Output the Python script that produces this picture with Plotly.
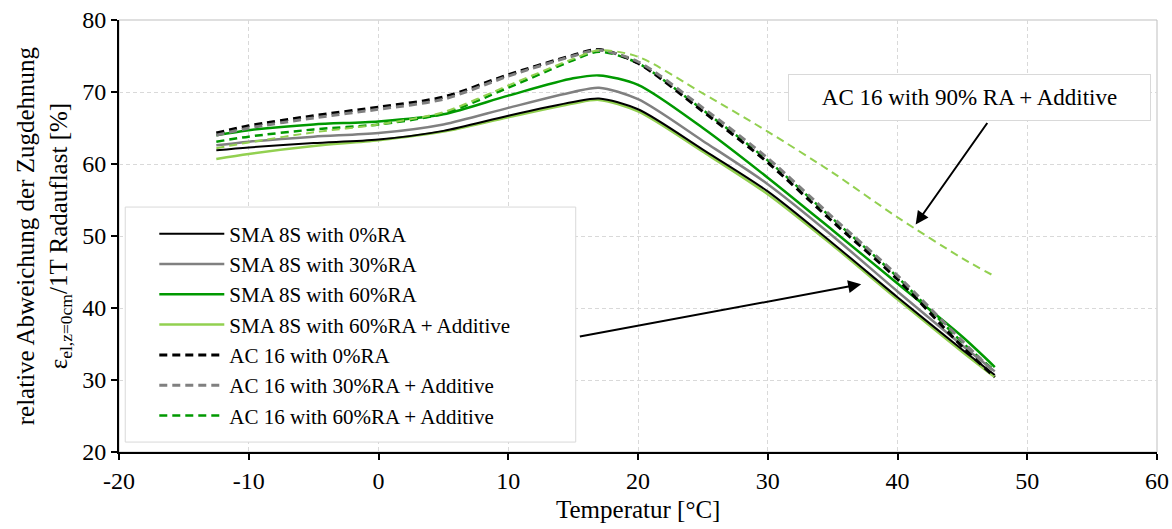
import plotly.graph_objects as go

# temperature steps [°C]
temps = [-12.5, -10, -5, 0, 5, 10, 15, 17, 20, 25, 30, 35, 40, 45, 47.5]

# relative deviation [%] per mixture
sma_0 = [61.9, 62.3, 62.9, 63.4, 64.6, 66.7, 68.6, 69.1, 67.6, 62.0, 56.2, 49.0, 41.5, 34.2, 30.7]
sma_30 = [62.6, 63.1, 63.8, 64.3, 65.5, 67.8, 70.0, 70.6, 69.0, 63.2, 57.2, 50.0, 42.3, 34.8, 31.2]
sma_60 = [64.0, 64.7, 65.5, 65.9, 66.9, 69.5, 71.9, 72.3, 71.0, 65.0, 58.1, 50.8, 43.4, 36.0, 31.8]
sma_60_add = [60.7, 61.4, 62.5, 63.3, 64.5, 66.5, 68.4, 68.9, 67.3, 61.7, 55.8, 48.7, 41.2, 33.9, 30.4]
ac_0 = [64.3, 65.3, 66.7, 67.9, 69.3, 72.4, 75.1, 75.9, 74.0, 67.3, 60.2, 52.0, 44.0, 34.6, 30.4]
ac_30_add = [64.0, 65.0, 66.4, 67.6, 69.0, 72.2, 75.0, 75.8, 74.2, 67.8, 60.8, 52.6, 44.5, 35.4, 31.0]
ac_60_add = [63.1, 63.8, 64.8, 65.5, 67.0, 70.6, 74.4, 75.6, 74.0, 67.5, 60.5, 52.4, 44.3, 35.2, 31.3]
ac_90_add = [62.2, 63.0, 64.4, 65.5, 67.2, 70.9, 74.6, 75.8, 74.9, 69.8, 64.5, 58.8, 52.6, 46.9, 44.4]

x_ticks = [-20, -10, 0, 10, 20, 30, 40, 50, 60]
x_ticktext = ["-20", "-10", "0", "10", "20", "30", "40", "50", "60"]
y_ticks = [20, 30, 40, 50, 60, 70, 80]

BLACK = "#000000"
GREY = "#808080"
GREEN = "#009900"
LIGHT = "#92D050"
FONT = "Liberation Serif, Times New Roman, serif"

# (name, values, colour, dash, width, in legend, legend rank)
series = [
    ("AC 16 with 60%RA + Additive", ac_60_add, GREEN, "8px,5px", 2.5, True, 7),
    ("SMA 8S with 60%RA + Additive", sma_60_add, LIGHT, "solid", 2.5, True, 4),
    ("SMA 8S with 0%RA", sma_0, BLACK, "solid", 2, True, 1),
    ("SMA 8S with 30%RA", sma_30, GREY, "solid", 2.5, True, 2),
    ("SMA 8S with 60%RA", sma_60, GREEN, "solid", 2.5, True, 3),
    ("AC 16 with 0%RA", ac_0, BLACK, "8px,5px", 3, True, 5),
    ("AC 16 with 30%RA + Additive", ac_30_add, GREY, "8px,5px", 3, True, 6),
    ("AC 16 with 90% RA + Additive", ac_90_add, LIGHT, "8px,5px", 2, False, 8),
]

fig = go.Figure()
for name, vals, col, dash, w, show, rank in series:
    fig.add_trace(go.Scatter(
        x=temps, y=vals, name=name, mode="lines",
        line=dict(color=col, dash=dash, width=w, shape="spline", smoothing=0.8),
        showlegend=show, legendrank=rank,
    ))

# plot frame and legend box
fig.add_shape(type="rect", xref="paper", yref="paper", x0=0, x1=1, y0=0, y1=1,
              line=dict(color="#BFBFBF", width=1), layer="below")
fig.add_shape(type="rect", xref="paper", yref="paper", x0=0.006, x1=0.44, y0=0.023, y1=0.567,
              line=dict(color="#D9D9D9", width=1), fillcolor="white", layer="above")

fig.add_annotation(x=45.56, y=69.3, text="AC 16 with 90% RA + Additive", showarrow=False,
                   font=dict(size=23, color="black", family=FONT),
                   bgcolor="white", bordercolor="#D9D9D9", borderwidth=1,
                   width=359, height=43, borderpad=1)
fig.add_annotation(x=41.4, y=51.6, ax=47.0, ay=65.9, axref="x", ayref="y", text="",
                   showarrow=True, arrowhead=2, arrowsize=1.3, arrowwidth=2, arrowcolor="black",
                   standoff=0)
fig.add_annotation(x=37.2, y=43.3, ax=15.4, ay=36.0, axref="x", ayref="y", text="",
                   showarrow=True, arrowhead=2, arrowsize=1.3, arrowwidth=2, arrowcolor="black",
                   standoff=0)

# axis titles
fig.add_annotation(xref="paper", yref="paper", x=-0.072, y=0.5, textangle=-90,
                   text="relative Abweichung der Zugdehnung<br>ε<sub>el,z=0cm</sub>/1T Radauflast [%]",
                   showarrow=False, font=dict(size=25, color="black", family=FONT),
                   xanchor="center", yanchor="middle")
fig.add_annotation(xref="paper", yref="paper", x=0.5, y=-0.133,
                   text="Temperatur [°C]", showarrow=False,
                   font=dict(size=25, color="black", family=FONT),
                   xanchor="center", yanchor="middle")

fig.update_layout(
    width=1172, height=529,
    margin=dict(l=119, r=15, t=20, b=77, autoexpand=False),
    paper_bgcolor="white", plot_bgcolor="white",
    font=dict(family=FONT, size=24, color="black"),
    legend=dict(x=0.034, y=0.552, xanchor="left", yanchor="top",
                bgcolor="rgba(0,0,0,0)", borderwidth=0, itemwidth=65,
                font=dict(size=21, family=FONT), tracegroupgap=0),
    xaxis=dict(range=[-20, 60], tickvals=x_ticks, ticktext=x_ticktext, automargin=False,
               showline=True, linecolor="black", linewidth=2,
               ticks="outside", ticklen=6, tickcolor="black", tickwidth=2,
               showgrid=True, gridcolor="#D9D9D9", griddash="4px,3px", gridwidth=1,
               zeroline=False),
    yaxis=dict(range=[20, 80], tickvals=y_ticks, automargin=False,
               showline=True, linecolor="black", linewidth=2,
               ticks="outside", ticklen=6, tickcolor="black", tickwidth=2,
               showgrid=True, gridcolor="#D9D9D9", griddash="4px,3px", gridwidth=1,
               zeroline=False),
)

# drop the default 8px page margin so the figure sits at the window corner
fig.write_html("out.html", config={"displayModeBar": False},
               post_script="document.body.style.margin='0';")
